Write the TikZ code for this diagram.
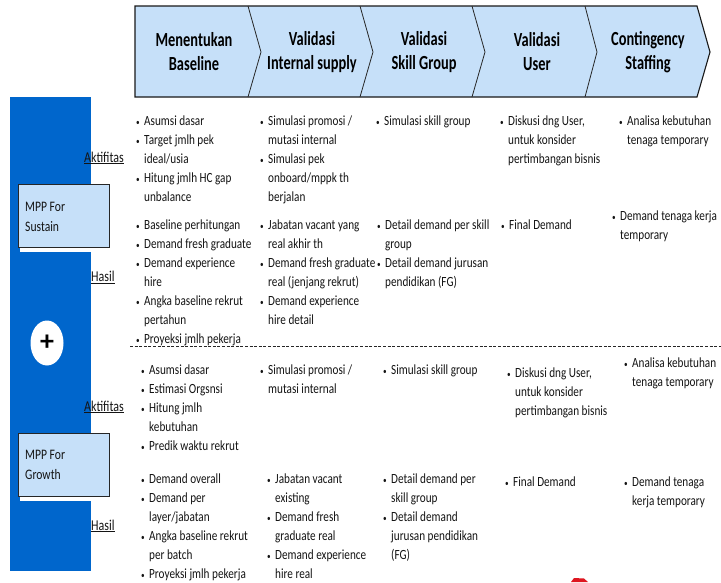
\documentclass[tikz,border=0pt]{standalone}
\usepackage{fontspec}
\usetikzlibrary{shapes.geometric}
\setmainfont{Carlito}
\newfontfamily\hdrfont[FakeStretch=0.72]{Carlito}
\newfontfamily\txtfont[FakeStretch=0.8]{Carlito}
\newcommand\itemdot{\makebox[8pt][l]{\raisebox{0.5pt}{\small•}}}
\newcommand\itemgap{\hspace*{8pt}}
% stacked lines whose reference point is the baseline of the first line
\newcommand\stackedlines[1]{\begin{tabular}[t]{@{}l@{}}#1\end{tabular}}
\definecolor{barblue}{RGB}{0,102,204}
\definecolor{paleblue}{RGB}{198,224,249}
\definecolor{inkdark}{RGB}{20,20,20}
\definecolor{flagred}{RGB}{222,22,32}
\tikzset{
  hdr/.style={font=\hdrfont\bfseries\fontsize{20}{24}\selectfont, align=center, anchor=center, inner sep=0pt, text=black},
  blk/.style={font=\txtfont\fontsize{14}{19}\selectfont, anchor=base west, inner sep=0pt, text=inkdark},
  rowlabel/.style={font=\txtfont\fontsize{15}{18}\selectfont, anchor=base west, inner sep=0pt, text=inkdark},
  mppbox/.style={draw=black!85, line width=0.9pt, fill=paleblue},
  mpptext/.style={font=\txtfont\fontsize{14.5}{20}\selectfont, anchor=base west, inner sep=0pt, text=inkdark},
  divider/.style={draw=black!85, line width=0.8pt}
}
\begin{document}
\begin{tikzpicture}[x=1pt,y=-1pt]
\useasboundingbox (0,0) rectangle (721,582);
\fill[white] (0,0) rectangle (721,582);

% process chevron band
\fill[paleblue] (135,6) -- (697,6) -- (710,52) -- (697,97) -- (135,97) -- cycle;
\draw[draw=black!90, line width=1.1pt] (135,6) -- (697,6) -- (710,52) -- (697,97) -- (135,97) -- cycle;
\draw[divider] (248,6) -- (261,52) -- (248,97);
\draw[divider] (360,6) -- (373,52) -- (360,97);
\draw[divider] (472,6) -- (485,52) -- (472,97);
\draw[divider] (585,6) -- (597,52) -- (585,97);

\node[hdr] (h1) at (194,52) {Menentukan\\Baseline};
\node[hdr] (h2) at (312,52) {Validasi\\Internal supply};
\node[hdr] (h3) at (424,52) {Validasi\\Skill Group};
\node[hdr] (h4) at (537,52) {Validasi\\User};
\node[hdr] (h5) at (648,52) {Contingency\\Staffing};

% left blue bar with the two MPP boxes
\fill[barblue] (10,97) rectangle (91,571);
\fill[white] (20,190) rectangle (91,252);
\filldraw[mppbox] (18,184) rectangle (109,247);
\node[mpptext] (sustain) at (25,211) {\stackedlines{MPP For\\Sustain}};
\fill[white] (20,439) rectangle (91,501);
\filldraw[mppbox] (18,433) rectangle (109,496);
\node[mpptext] (growth) at (25,459) {\stackedlines{MPP For\\Growth}};

\node[ellipse, draw=none, fill=white, minimum width=33pt, minimum height=45pt, inner sep=0pt] (plusdisc) at (47,343) {};
\node[font=\bfseries\fontsize{28}{28}\selectfont, inner sep=0pt, text=black] (plus) at (47,343) {+};

% row labels
\node[rowlabel] (akt1) at (84,162) {\underline{Aktifitas}};
\node[rowlabel] (has1) at (91,281.5) {\underline{Hasil}};
\node[rowlabel] (akt2) at (84,411) {\underline{Aktifitas}};
\node[rowlabel] (has2) at (91,530) {\underline{Hasil}};

% separator between the two plans
\draw[black!85, line width=0.8pt, dash pattern=on 3pt off 1.6pt] (130,346) -- (721,346);

% MPP for sustain: activities
\node[blk] (sa1) at (136,125.5) {\stackedlines{\itemdot Asumsi dasar\\\itemdot Target jmlh pek\\\itemgap ideal/usia\\\itemdot Hitung jmlh HC gap\\\itemgap unbalance}};
\node[blk] (sa2) at (260,125.5) {\stackedlines{\itemdot Simulasi promosi /\\\itemgap mutasi internal\\\itemdot Simulasi pek\\\itemgap onboard/mppk th\\\itemgap berjalan}};
\node[blk] (sa3) at (376,125.5) {\stackedlines{\itemdot Simulasi skill group}};
\node[blk] (sa4) at (500,125.5) {\stackedlines{\itemdot Diskusi dng User,\\\itemgap untuk konsider\\\itemgap pertimbangan bisnis}};
\node[blk] (sa5) at (619,125.5) {\stackedlines{\itemdot Analisa kebutuhan\\\itemgap tenaga temporary}};

% MPP for sustain: results
\node[blk] (sh1) at (136,229.5) {\stackedlines{\itemdot Baseline perhitungan\\\itemdot Demand fresh graduate\\\itemdot Demand experience\\\itemgap hire\\\itemdot Angka baseline rekrut\\\itemgap pertahun\\\itemdot Proyeksi jmlh pekerja}};
\node[blk] (sh2) at (260,229.5) {\stackedlines{\itemdot Jabatan vacant yang\\\itemgap real akhir th\\\itemdot Demand fresh graduate\\\itemgap real (jenjang rekrut)\\\itemdot Demand experience\\\itemgap hire detail}};
\node[blk] (sh3) at (377,229.5) {\stackedlines{\itemdot Detail demand per skill\\\itemgap group\\\itemdot Detail demand jurusan\\\itemgap pendidikan (FG)}};
\node[blk] (sh4) at (501,229.5) {\stackedlines{\itemdot Final Demand}};
\node[blk] (sh5) at (612,220.5) {\stackedlines{\itemdot Demand tenaga kerja\\\itemgap temporary}};

% MPP for growth: activities
\node[blk] (ga1) at (141,374.5) {\stackedlines{\itemdot Asumsi dasar\\\itemdot Estimasi Orgsnsi\\\itemdot Hitung jmlh\\\itemgap kebutuhan\\\itemdot Predik waktu rekrut}};
\node[blk] (ga2) at (260,374.5) {\stackedlines{\itemdot Simulasi promosi /\\\itemgap mutasi internal}};
\node[blk] (ga3) at (383,374.5) {\stackedlines{\itemdot Simulasi skill group}};
\node[blk] (ga4) at (507,377.5) {\stackedlines{\itemdot Diskusi dng User,\\\itemgap untuk konsider\\\itemgap pertimbangan bisnis}};
\node[blk] (ga5) at (624,367.5) {\stackedlines{\itemdot Analisa kebutuhan\\\itemgap tenaga temporary}};

% MPP for growth: results
\node[blk] (gh1) at (141,483.5) {\stackedlines{\itemdot Demand overall\\\itemdot Demand per\\\itemgap layer/jabatan\\\itemdot Angka baseline rekrut\\\itemgap per batch\\\itemdot Proyeksi jmlh pekerja}};
\node[blk] (gh2) at (267,483.5) {\stackedlines{\itemdot Jabatan vacant\\\itemgap existing\\\itemdot Demand fresh\\\itemgap graduate real\\\itemdot Demand experience\\\itemgap hire real}};
\node[blk] (gh3) at (383,483.5) {\stackedlines{\itemdot Detail demand per\\\itemgap skill group\\\itemdot Detail demand\\\itemgap jurusan pendidikan\\\itemgap (FG)}};
\node[blk] (gh4) at (505,486.5) {\stackedlines{\itemdot Final Demand}};
\node[blk] (gh5) at (624,486.5) {\stackedlines{\itemdot Demand tenaga\\\itemgap kerja temporary}};

% red mark at the lower edge
\fill[flagred] (571,582) -- (574,578) -- (584,578.5) -- (588,582) -- cycle;
\end{tikzpicture}
\end{document}
